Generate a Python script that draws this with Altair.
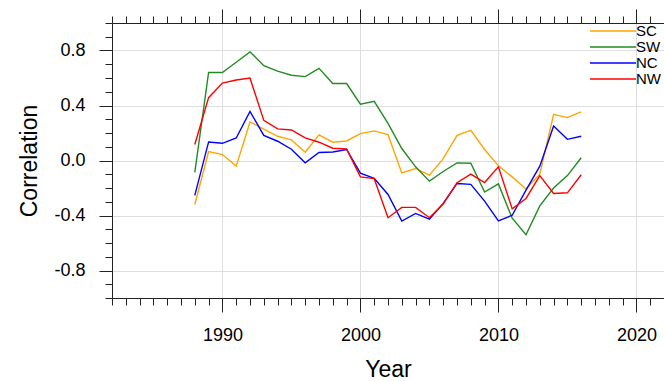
import altair as alt
import pandas as pd

# Running correlation by region, 1988-2016
years = list(range(1988, 2017))
regions = ["SC", "SW", "NC", "NW"]
colors = ["#FFA500", "#228B22", "#0000FF", "#FF0000"]

sc = [-0.32, 0.065, 0.043, -0.041, 0.28, 0.229, 0.176, 0.15, 0.06, 0.186,
      0.133, 0.142, 0.196, 0.215, 0.188, -0.09, -0.058, -0.107, 0.014, 0.183,
      0.22, 0.08, -0.039, -0.119, -0.208, -0.10, 0.336, 0.312, 0.353]
sw = [-0.087, 0.64, 0.64, 0.715, 0.79, 0.69, 0.65, 0.62, 0.61, 0.67,
      0.56, 0.56, 0.41, 0.43, 0.27, 0.087, -0.046, -0.15, -0.08, -0.017,
      -0.02, -0.23, -0.17, -0.42, -0.54, -0.33, -0.2, -0.11, 0.02]
nc = [-0.254, 0.135, 0.125, 0.164, 0.357, 0.183, 0.14, 0.082, -0.017, 0.058,
      0.062, 0.08, -0.092, -0.13, -0.247, -0.44, -0.385, -0.426, -0.312, -0.167,
      -0.174, -0.295, -0.44, -0.398, -0.215, -0.041, 0.251, 0.154, 0.176]
nw = [0.116, 0.457, 0.563, 0.585, 0.6, 0.292, 0.23, 0.222, 0.164, 0.133,
      0.089, 0.084, -0.119, -0.132, -0.416, -0.341, -0.341, -0.416, -0.317, -0.162,
      -0.099, -0.16, -0.046, -0.352, -0.276, -0.11, -0.24, -0.235, -0.104]

major_years = [1990, 2000, 2010, 2020]
minor_years = list(range(1982, 2023))
major_corr = [-0.8, -0.4, 0.0, 0.4, 0.8]
minor_corr = [-1.0, -0.9, -0.8, -0.7, -0.6, -0.5, -0.4, -0.3, -0.2, -0.1, 0.0,
              0.1, 0.2, 0.3, 0.4, 0.5, 0.6, 0.7, 0.8, 0.9, 1.0]

rows = []
for name, series in zip(regions, [sc, sw, nc, nw]):
    for yr, v in zip(years, series):
        rows.append({"year": yr, "region": name, "corr": v})
df = pd.DataFrame(rows)

FONT = "Liberation Sans"
INK = "#222222"
GRID = "#dedede"

x_scale = alt.Scale(domain=[1982, 2022], nice=False, zero=False)
y_scale = alt.Scale(domain=[-1, 1], nice=False, zero=False)

base = alt.Chart(df)

lines = base.mark_line(strokeWidth=1.4).encode(
    x=alt.X(
        "year:Q", scale=x_scale,
        axis=alt.Axis(
            orient="bottom", values=major_years, format="d",
            tickSize=14, labelPadding=14.5, labelFontSize=18, labelFont=FONT,
            labelColor="black", grid=True, gridColor=GRID,
            title="Year", titleFont=FONT, titleFontSize=23,
            titleFontWeight="normal", titleColor="black",
            titleBaseline="alphabetic", titleX=276, titleY=78,
        ),
    ),
    y=alt.Y(
        "corr:Q", scale=y_scale,
        axis=alt.Axis(
            orient="left", values=major_corr,
            labelExpr="replace(format(datum.value, '.1f'), '\u2212', '-')",
            tickSize=13, labelPadding=14, labelFontSize=18, labelFont=FONT,
            labelColor="black", grid=True, gridColor=GRID,
            title="Correlation", titleFont=FONT, titleFontSize=23,
            titleFontWeight="normal", titleColor="black",
            titleBaseline="alphabetic", titleAngle=270,
            titleX=-75.5, titleY=137.5,
        ),
    ),
    color=alt.Color(
        "region:N",
        scale=alt.Scale(domain=regions, range=colors),
        legend=alt.Legend(
            title=None, orient="none", legendX=478, legendY=0.5,
            # long horizontal stroke drawn to the left of each label
            symbolType="M-1.5,0H7.7", symbolSize=100, symbolStrokeWidth=1.4,
            labelFontSize=15, labelFont=FONT, labelColor="black",
            labelOffset=31, rowPadding=-3, padding=0,
        ),
    ),
)

ghost = base.mark_point(opacity=0)

# minor ticks on bottom and left
minor_bl = ghost.encode(
    x=alt.X("year:Q", scale=x_scale,
            axis=alt.Axis(orient="bottom", values=minor_years, tickSize=7,
                          labels=False, domain=False, grid=False, title=None)),
    y=alt.Y("corr:Q", scale=y_scale,
            axis=alt.Axis(orient="left", values=minor_corr, tickSize=7,
                          labels=False, domain=False, grid=False, title=None)),
)

# mirrored ticks along the top edge
top_major = ghost.encode(
    x=alt.X("year:Q", scale=x_scale,
            axis=alt.Axis(orient="top", values=major_years, tickSize=14,
                          labels=False, domain=True, grid=False, title=None)),
    y=alt.Y("corr:Q", scale=y_scale, axis=None),
)
top_minor = ghost.encode(
    x=alt.X("year:Q", scale=x_scale,
            axis=alt.Axis(orient="top", values=minor_years, tickSize=7,
                          labels=False, domain=False, grid=False, title=None)),
    y=alt.Y("corr:Q", scale=y_scale, axis=None),
)

chart = (
    alt.layer(lines, minor_bl, top_major, top_minor)
    .resolve_axis(x="independent", y="independent")
    .properties(
        width=552, height=275, autosize="none",
        padding={"left": 112, "top": 23, "right": 0, "bottom": 83},
        title=alt.TitleParams(
            text="(b)", fontSize=30, font=FONT, fontWeight="normal",
            color="black", anchor="start", frame="group", dx=210,
            offset=12, baseline="alphabetic",
        ),
    )
    .configure_view(strokeWidth=0)
    .configure_axis(domainColor=INK, tickColor=INK, domainWidth=1, tickWidth=1)
)

chart.save("out.html", embed_options={"renderer": "svg", "actions": False})
